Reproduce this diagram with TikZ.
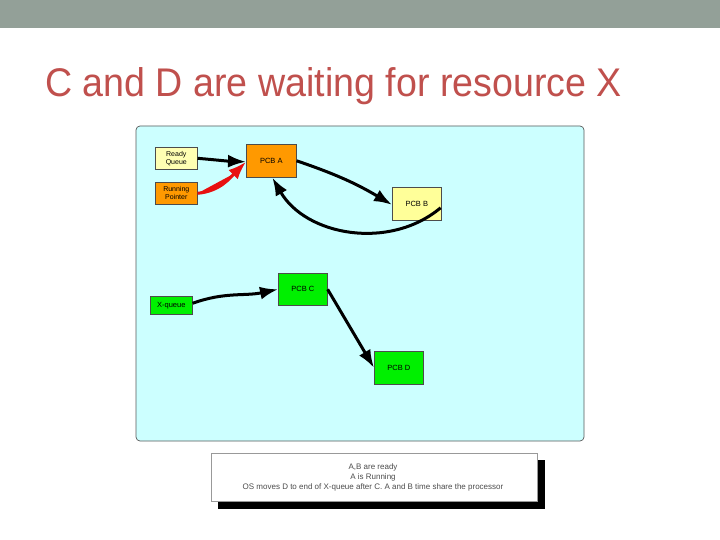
\documentclass[tikz,border=0pt]{standalone}
\usepackage{fontspec}
\setmainfont{Liberation Sans}
\usetikzlibrary{arrows.meta}
\definecolor{topbar}{HTML}{93A098}
\definecolor{titlered}{HTML}{C0504D}
\definecolor{panelcyan}{HTML}{CCFFFF}
\definecolor{paleyellow}{HTML}{FFFFB3}
\definecolor{pcbyellow}{HTML}{FFFF99}
\definecolor{pcborange}{HTML}{FF9900}
\definecolor{pcbgreen}{HTML}{00F000}
\definecolor{arrowred}{HTML}{E81010}
\tikzset{
  x=1pt, y=-1pt,
  box/.style={draw=black!70, line width=0.6pt, inner sep=0pt, font=\fontsize{7.5}{8.5}\selectfont, align=center, anchor=north west},
  conn/.style={line width=3pt, -{Latex[length=18pt,width=13pt]}},
}
\begin{document}
\begin{tikzpicture}
\useasboundingbox (0,0) rectangle (720,540);
\fill[white] (0,0) rectangle (720,540);
\fill[topbar] (0,0) rectangle (720,28);
\node[anchor=base west, text=titlered, inner sep=0pt, font=\fontsize{40}{44}\selectfont] (title) at (45,97) {\scalebox{0.94}[1]{C and D are waiting for resource X}};
% panel
\draw[fill=panelcyan, draw=black!65, line width=0.7pt, rounded corners=4pt] (136,126) rectangle (584,441);
% nodes
\node[box, fill=paleyellow, minimum width=42pt, minimum height=22pt, font=\fontsize{7}{8}\selectfont] (rq) at (155,147) {Ready\\Queue};
\node[box, fill=pcborange, minimum width=42pt, minimum height=22pt, font=\fontsize{7}{8}\selectfont] (rp) at (155,182) {Running\\Pointer};
\node[box, fill=pcborange, minimum width=50pt, minimum height=33pt] (a) at (246,144) {PCB A};
\node[box, fill=pcbyellow, minimum width=49pt, minimum height=33pt] (b) at (392,187) {PCB B};
\node[box, fill=pcbgreen, minimum width=49pt, minimum height=32pt] (c) at (278,273) {PCB C};
\node[box, fill=pcbgreen, minimum width=42pt, minimum height=18pt] (xq) at (150,296) {X-queue};
\node[box, fill=pcbgreen, minimum width=49pt, minimum height=33pt] (d) at (374,351) {PCB D};
% connectors
\draw[conn] (rq.east) to[out=-5,in=178] ([yshift=-1pt]a.west);
\draw[conn, draw=arrowred, fill=arrowred] (rp.east) to[out=5,in=225] ([yshift=-1pt]a.west);
\draw[conn] (a.east) to[bend left=6] ([yshift=-1pt]b.west);
\coordinate (bend) at ([shift={(-1pt,-4pt)}]b.east);
\draw[conn] (bend) to[out=220,in=-60] ([xshift=1pt]a.south);
\draw[conn] ([yshift=2pt]xq.east) to[out=20,in=192] (c.west);
\draw[conn] (c.east) -- (d.west);
% caption
\fill[black] (218,460) rectangle (545,509);
\node[draw=black!40, line width=0.4pt, fill=white, anchor=north west, minimum width=326pt, minimum height=48pt, inner sep=0pt] (cap) at (211,453) {};
\node[font=\fontsize{8}{9.6}\selectfont, align=center, text=black!70] (captext) at (373,477.5) {A,B are ready\\A is Running\\OS moves D to end of X-queue after C. A and B time share the processor};
\end{tikzpicture}
\end{document}
